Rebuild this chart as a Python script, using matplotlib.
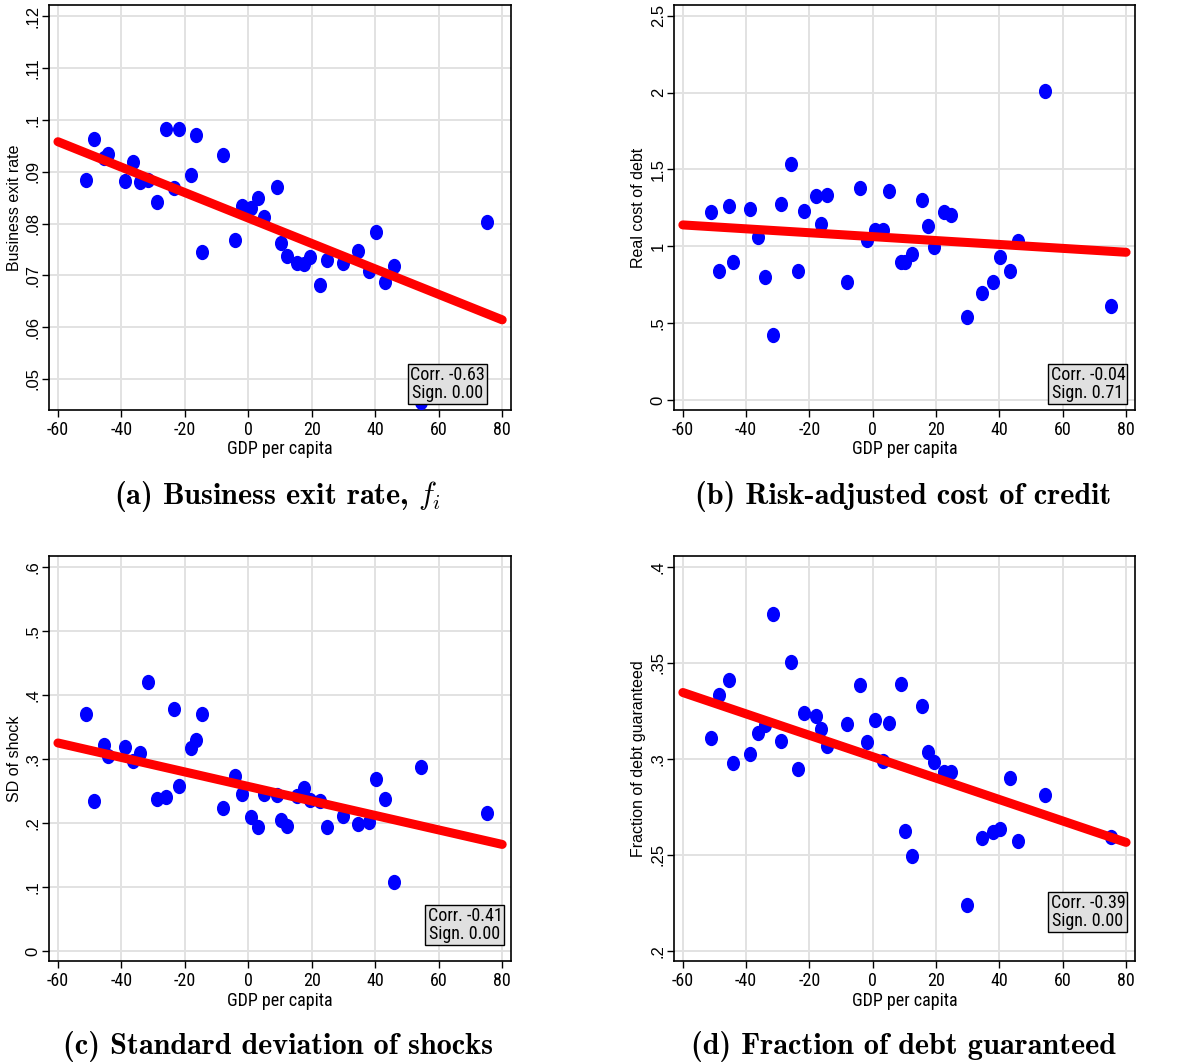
import os
import matplotlib
matplotlib.use('Agg')
import matplotlib.pyplot as plt
from matplotlib import font_manager
from matplotlib.font_manager import FontProperties
from matplotlib.path import Path
from matplotlib.transforms import Affine2D

plt.rcParams['font.family'] = ['Liberation Sans', 'DejaVu Sans']
plt.rcParams['mathtext.fontset'] = 'cm'

# GDP per capita (deviation from mean), one entry per country
gdp = [-51.2, -48.6, -45.4, -44.2, -38.8, -36.2, -34.0, -31.6, -28.9, -25.8,
       -23.5, -21.8, -18.0, -16.5, -14.5, -8.1, -4.1, -1.9, 0.7, 3.2,
       5.0, 8.9, 10.3, 12.3, 15.4, 17.5, 19.4, 22.6, 24.7, 29.8,
       34.6, 38.1, 40.1, 43.2, 46.0, 54.3, 75.1]

exit_rate = [0.0884, 0.0963, 0.0926, 0.0935, 0.0882, 0.0918, 0.0880, 0.0884, 0.0841, 0.0983,
             0.0868, 0.0982, 0.0893, 0.0970, 0.0745, 0.0932, 0.0768, 0.0833, 0.0830, 0.0849,
             0.0813, 0.0870, 0.0762, 0.0737, 0.0724, 0.0722, 0.0735, 0.0681, 0.0730, 0.0723,
             0.0746, 0.0709, 0.0783, 0.0687, 0.0718, 0.0456, 0.0802]

cost_debt = [1.222, 0.839, 1.261, 0.896, 1.243, 1.061, 0.800, 0.420, 1.276, 1.535,
             0.839, 1.230, 1.330, 1.143, 1.335, 0.767, 1.378, 1.041, 1.104, 1.104,
             1.357, 0.896, 0.896, 0.948, 1.304, 1.133, 0.996, 1.226, 1.202, 0.539,
             0.698, 0.767, 0.930, 0.837, 1.033, 2.011, 0.613]

sd_shock = [0.370, 0.235, 0.322, 0.304, 0.318, 0.297, 0.309, 0.421, 0.237, 0.240,
            0.378, 0.258, 0.317, 0.329, 0.370, 0.224, 0.273, 0.245, 0.209, 0.193,
            0.245, 0.243, 0.205, 0.196, 0.242, 0.254, 0.236, 0.235, 0.193, 0.211,
            0.199, 0.201, 0.268, 0.237, 0.108, 0.288, 0.215]

guaranteed = [0.3109, 0.3332, 0.3408, 0.2976, 0.3026, 0.3135, 0.3174, 0.3753, 0.3094, 0.3502,
              0.2948, 0.3240, 0.3222, 0.3155, 0.3064, 0.3182, 0.3384, 0.3087, 0.3201, 0.2988,
              0.3188, 0.3387, 0.2623, 0.2493, 0.3273, 0.3036, 0.2984, 0.2932, 0.2929, 0.2236,
              0.2589, 0.2620, 0.2632, 0.2899, 0.2573, 0.2813, 0.2590]

# linear fit, evaluated at the ends of the x range
fit_x = [-60, 80]
fit_exit = [0.0958, 0.0614]
fit_cost = [1.139, 0.961]
fit_sd = [0.325, 0.1665]
fit_guar = [0.3345, 0.2564]

corr_text = ['Corr. -0.63\nSign. 0.00', 'Corr. -0.04\nSign. 0.71',
             'Corr. -0.41\nSign. 0.00', 'Corr. -0.39\nSign. 0.00']

x_ticks = [-60, -40, -20, 0, 20, 40, 60, 80]

panels = [
    dict(y=exit_rate, fit=fit_exit, ylabel='Business exit rate',
         yticks=[0.05, 0.06, 0.07, 0.08, 0.09, 0.10, 0.11, 0.12],
         yticklabels=['.05', '.06', '.07', '.08', '.09', '.1', '.11', '.12'],
         ylim=(0.044, 0.1222), box=(0.862, 0.064),
         caption=r'(a) Business exit rate, $f_i$'),
    dict(y=cost_debt, fit=fit_cost, ylabel='Real cost of debt',
         yticks=[0, 0.5, 1, 1.5, 2, 2.5],
         yticklabels=['0', '.5', '1', '1.5', '2', '2.5'],
         ylim=(-0.065, 2.57), box=(0.898, 0.064),
         caption='(b) Risk-adjusted cost of credit'),
    dict(y=sd_shock, fit=fit_sd, ylabel='SD of shock',
         yticks=[0, 0.1, 0.2, 0.3, 0.4, 0.5, 0.6],
         yticklabels=['0', '.1', '.2', '.3', '.4', '.5', '.6'],
         ylim=(-0.0156, 0.617), box=(0.900, 0.089),
         caption='(c) Standard deviation of shocks'),
    dict(y=guaranteed, fit=fit_guar, ylabel='Fraction of debt guaranteed',
         yticks=[0.2, 0.25, 0.3, 0.35, 0.4],
         yticklabels=['.2', '.25', '.3', '.35', '.4'],
         ylim=(0.1946, 0.4056), box=(0.898, 0.121),
         caption='(d) Fraction of debt guaranteed'),
]

# axes rectangles [left, bottom, width, height] and caption centres
rects = [[0.0415, 0.6147, 0.3909, 0.3806], [0.5702, 0.6147, 0.3900, 0.3806],
         [0.0415, 0.0968, 0.3909, 0.3806], [0.5702, 0.0968, 0.3900, 0.3806]]
caption_pos = [(0.235, 0.533), (0.764, 0.533), (0.235, 0.016), (0.764, 0.016)]


def find_narrow_font():
    # a condensed sans for the horizontal labels, if one is installed
    wanted = ['Liberation Sans Narrow', 'Arial Narrow', 'DejaVu Sans Condensed',
              'Roboto Condensed', 'Noto Sans Condensed', 'Open Sans Condensed']
    regular = [f for f in font_manager.fontManager.ttflist
               if f.style == 'normal' and f.weight in (400, 'normal', 'regular', 'book')]
    for name in wanted:
        for f in regular:
            if f.name == name:
                return f.fname
    for f in regular:
        if f.name in ('DejaVu Sans', 'Noto Sans', 'Open Sans', 'Roboto') and \
                'condensed' in str(f.stretch).lower() and 'extra' not in str(f.stretch).lower():
            return f.fname
    for f in regular:
        base = os.path.basename(f.fname).lower()
        if 'condensed' in base and 'sans' in base and 'bold' not in base and 'extra' not in base \
                and 'italic' not in base and 'oblique' not in base and 'mono' not in base:
            return f.fname
    return None


narrow_path = find_narrow_font()
if narrow_path:
    def narrow(size):
        return FontProperties(fname=narrow_path, size=size)
else:
    def narrow(size):
        return FontProperties(family='Liberation Sans', size=size * 0.84)

# slightly tall ellipse for the scatter points
oval = Path.unit_circle().transformed(Affine2D().scale(0.84, 1.0))

cm_bold = FontProperties(fname=os.path.join(matplotlib.get_data_path(), 'fonts', 'ttf', 'cmb10.ttf'),
                         size=21.8)

fig = plt.figure(figsize=(11.82, 10.64), dpi=100)

for p, rect, cpos, txt in zip(panels, rects, caption_pos, corr_text):
    ax = fig.add_axes(rect)
    ax.plot(gdp, p['y'], linestyle='none', marker=oval, markersize=10,
            color='#0000ff', zorder=3)
    ax.plot(fit_x, p['fit'], color='#ff0000', linewidth=6.5, solid_capstyle='round', zorder=4)

    ax.set_xlim(-62.8, 82.8)
    ax.set_ylim(*p['ylim'])
    ax.set_xticks(x_ticks)
    ax.set_xticklabels([str(t) for t in x_ticks], fontproperties=narrow(13))
    ax.set_yticks(p['yticks'])
    ax.set_yticklabels(p['yticklabels'], rotation=90, va='center', fontsize=12)
    ax.tick_params(axis='x', direction='out', length=5, width=1, pad=3)
    ax.tick_params(axis='y', direction='out', length=5, width=1, pad=1)

    ax.grid(True, color='#e2e2e2', linewidth=1.4)
    ax.set_axisbelow(True)
    for s in ax.spines.values():
        s.set_linewidth(1.2)
        s.set_color('black')

    ax.set_xlabel('GDP per capita', fontproperties=narrow(13), labelpad=1)
    ax.set_ylabel(p['ylabel'], fontsize=11.5, labelpad=3)

    ax.text(p['box'][0], p['box'][1], txt, transform=ax.transAxes,
            ha='center', va='center', fontproperties=narrow(13), linespacing=1.0, zorder=6,
            bbox=dict(boxstyle='square,pad=0.12', facecolor='#e0e0e0',
                      edgecolor='black', linewidth=1))

    fig.text(cpos[0], cpos[1], p['caption'], ha='center', va='center',
             fontproperties=cm_bold)

fig.savefig('out.png', dpi=100)
